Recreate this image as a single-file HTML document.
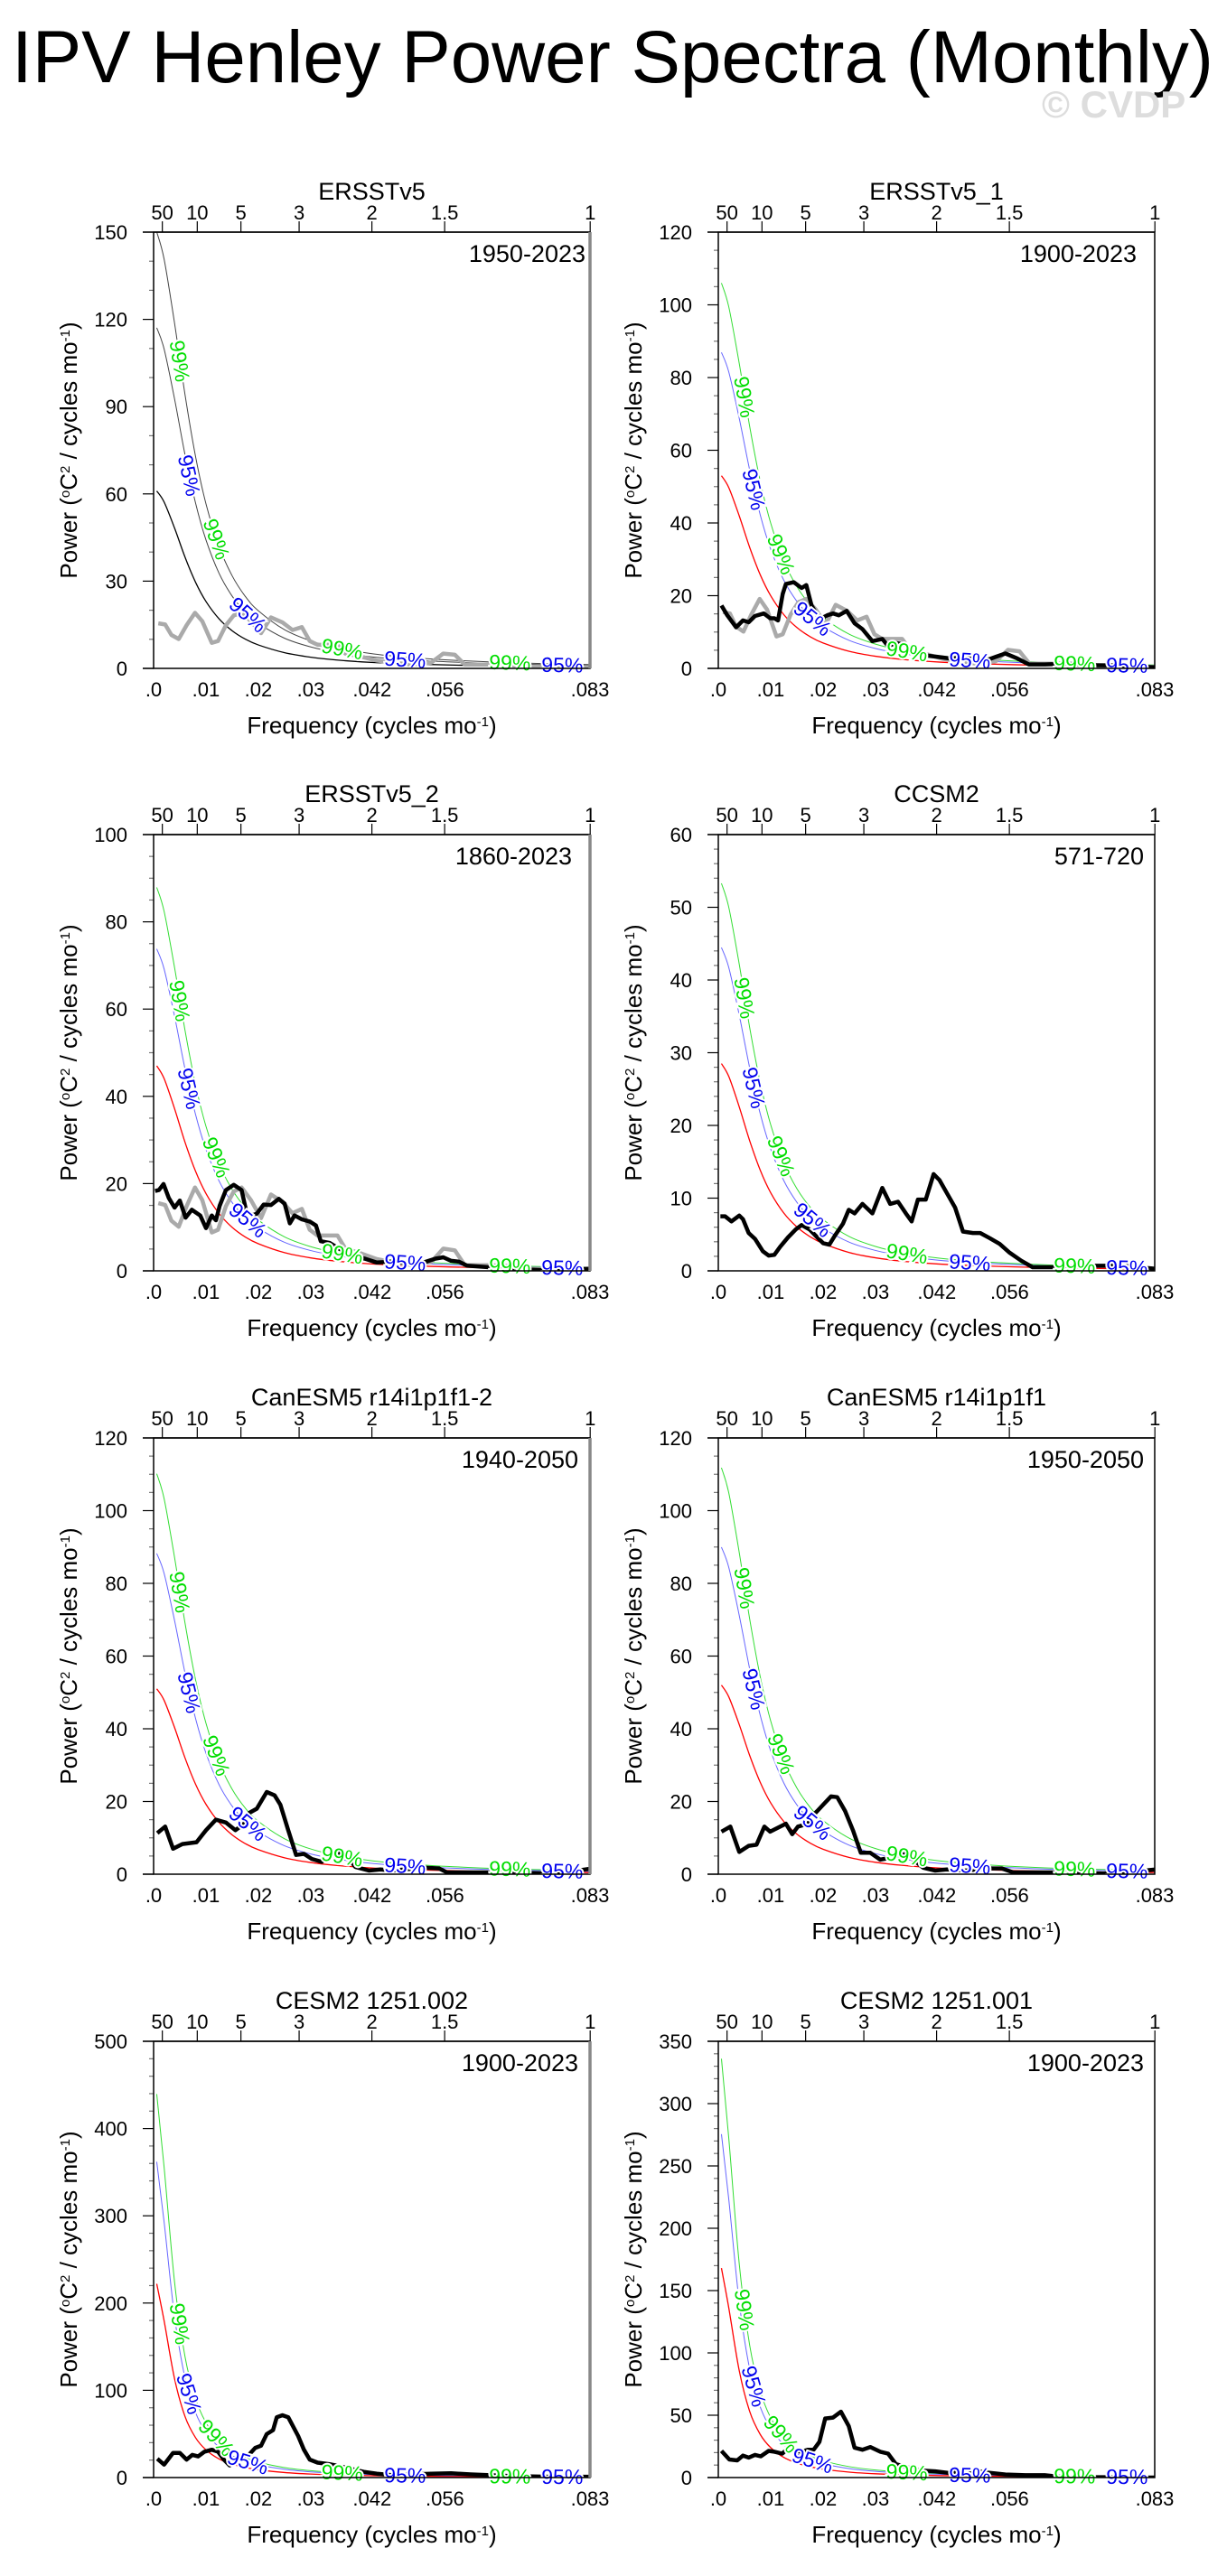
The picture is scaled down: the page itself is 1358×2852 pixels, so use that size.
<!DOCTYPE html>
<html><head><meta charset="utf-8"><title>IPV Henley Power Spectra (Monthly)</title>
<style>
html,body{margin:0;padding:0;background:#fff;}
svg{display:block;font-family:"Liberation Sans",Arial,sans-serif;}
</style></head>
<body>
<svg id="page" width="1358" height="2852" viewBox="0 0 1358 2852" xmlns="http://www.w3.org/2000/svg">
<rect x="0" y="0" width="1358" height="2852" fill="#fff"/>
<text x="13" y="91" font-size="82" textLength="1330" lengthAdjust="spacingAndGlyphs" fill="#000">IPV Henley Power Spectra (Monthly)</text>
<text x="1153" y="130" font-size="42" font-weight="bold" fill="#ddd">© CVDP</text>
<g id="charts"></g>
</svg>
<script>
// ---------- DATA ----------
const titles = ["ERSSTv5","ERSSTv5_1","ERSSTv5_2","CCSM2","CanESM5 r14i1p1f1-2","CanESM5 r14i1p1f1","CESM2 1251.002","CESM2 1251.001"];
const years = ["1950-2023","1900-2023","1860-2023","571-720","1940-2050","1950-2050","1900-2023","1900-2023"];
const yMaxs = [150,120,100,60,120,120,500,350];
const yMajors = [30,20,20,10,20,20,100,50];
const yMinors = [10,5,5,2,5,5,20,10];
const redStarts = [61,53,47,28.5,51,52,222,168];
const ratio95 = [1.92,1.64,1.57,1.56,1.73,1.73,1.63,1.64];
const ratio99 = [2.46,2.0,1.87,1.87,2.16,2.15,1.98,2.0];
const shapeIdx = [0,0,0,0,0,0,1,1];
const shapeF = [0.0006,0.002,0.004,0.006,0.008,0.01,0.0125,0.015,0.0175,0.02,0.025,0.03,0.035,0.042,0.05,0.06,0.07,0.0833];
const shapeA = [1,0.938,0.791,0.627,0.486,0.377,0.279,0.212,0.165,0.132,0.0885,0.063,0.047,0.033,0.024,0.017,0.0124,0.0088];
const shapeB = [1,0.81,0.51,0.315,0.206,0.143,0.096,0.069,0.052,0.040,0.026,0.018,0.0134,0.0094,0.0067,0.0047,0.0034,0.0024];
const xTickVals = [0,0.01,0.02,0.03,0.0417,0.0556,0.0833];
const xTickLabels = [".0",".01",".02",".03",".042",".056",".083"];
const periodVals = [50,10,5,3,2,1.5,1];
const periodLabels = ["50","10","5","3","2","1.5","1"];
const greenLabelF = [0.005,0.012,0.036,0.068];
const blueLabelF = [0.0068,0.018,0.048,0.078];

const obsF = [.0009,.0022,.0034,.0048,.0063,.0079,.0093,.0111,.0123,.0138,.0153,.0168,.0186,.0205,.0224,.0246,.0265,.0283,.0298,.0313,.0351,.0366,.0396,.0426,.0456,.0493,.053,.0553,.0575,.0594,.0643,.068,.0717,.0755,.0833];
const obsV = [15.5,15.1,11.5,10.1,14.8,19.1,16.2,8.8,9.4,14.8,18.2,19.1,16.2,12.1,17.5,15.8,13.2,14.2,9.4,8.1,8.1,5.1,4.0,2.7,2.0,1.3,2.0,5.1,4.7,1.3,1.3,1.1,0.5,0.4,0.4];

const s2f = [.0006,.0017,.0034,.0047,.0058,.0070,.0087,.0099,.0107,.0114,.0123,.0129,.0144,.0159,.0168,.0178,.0189,.0197,.0208,.0219,.0230,.0245,.0260,.0275,.0294,.0313,.0324,.0339,.0358,.0376,.0399,.0417,.0444,.0466,.0511,.053,.0548,.0571,.0593,.0623,.0668,.0698,.0765,.0833];
const s2v = [17.3,14.6,11.3,13.2,12.7,14.4,15.1,13.8,13.8,13.2,20.5,23.2,23.7,22.1,22.9,17.3,14.6,13.8,14.6,15.1,14.6,15.8,12.4,10.8,7.5,8.1,6.1,7.0,6.5,4.3,3.5,3.2,2.7,3.0,2.2,3.2,4.1,2.7,1.1,1.1,1.3,0.9,0.8,0.3];
const s3f = [.0003,.0010,.0019,.0029,.0040,.0050,.0061,.0073,.0089,.0100,.0111,.0119,.0126,.0138,.0153,.0168,.0177,.0190,.0197,.0210,.0224,.0239,.0250,.0260,.0269,.0283,.0298,.0310,.0319,.0336,.0355,.0370,.0385,.0403,.0426,.0456,.0486,.0515,.0538,.0553,.0568,.0583,.0598,.0643,.0717,.0755,.0833];
const s3v = [18.3,18.5,19.9,16.7,14.5,16.1,12.2,14.0,12.7,9.8,12.7,11.6,14.9,18.5,19.7,18.5,13.6,12.8,13.1,15.2,15.1,16.5,15.4,10.9,12.7,11.8,11.3,10.4,6.8,6.4,5.0,4.1,3.2,2.8,1.9,2.1,1.9,1.9,2.8,3.1,2.3,2.1,1.2,0.8,0.3,0.1,0.5];
const s4f = [.0004,.0013,.0025,.0040,.0047,.0058,.0070,.0085,.0096,.0107,.0118,.0133,.0148,.0159,.0174,.0189,.0200,.0212,.0223,.0238,.0249,.0260,.0275,.0294,.0313,.0328,.0343,.0358,.0369,.0381,.0396,.0411,.0422,.0437,.0452,.0467,.0486,.0500,.0518,.0537,.0556,.0578,.0600,.0660,.0698,.0773,.0833];
const s4v = [7.5,7.5,6.8,7.6,7.1,5.2,4.4,2.7,2.1,2.2,3.3,4.6,5.7,6.3,5.7,4.6,3.8,3.6,4.9,6.5,8.4,7.9,9.2,7.9,11.4,9.2,9.5,7.9,6.8,9.8,9.8,13.3,12.5,10.6,8.7,5.4,5.2,5.2,4.5,3.7,2.5,1.4,0.5,0.5,0.7,0.7,0.3];
const s5f = [.0007,.0022,.0037,.0055,.0082,.0100,.0119,.0138,.0156,.0171,.0183,.0197,.0216,.0231,.0242,.0257,.0272,.0287,.0302,.0321,.0343,.0366,.0385,.0411,.0433,.0456,.0515,.0545,.0560,.0680,.0755,.0800,.0833];
const s5v = [11.3,13.1,7.0,8.3,8.8,12.1,15.0,14.2,12.1,13.7,16.9,18.0,22.6,21.7,19.1,12.1,5.3,5.6,4.2,3.4,5.9,5.6,2.0,1.0,1.3,1.0,1.8,1.6,0.5,0.5,0.2,0.8,1.5];
const s6f = [.0006,.0023,.0040,.0058,.0073,.0088,.0099,.0114,.0129,.0141,.0152,.0167,.0178,.0189,.0200,.0215,.0227,.0242,.0257,.0272,.0290,.0309,.0328,.0346,.0361,.0372,.0391,.0414,.0436,.0473,.0511,.0541,.0563,.0660,.0735,.0802,.0833];
const s6v = [11.7,13.1,6.1,7.8,8.1,13.1,11.7,12.8,13.9,11.0,13.1,13.7,15.8,17.4,19.1,21.4,21.2,17.4,12.1,5.9,5.9,4.0,4.5,5.3,5.6,4.0,1.8,1.0,1.3,1.0,1.6,1.6,0.5,0.5,0.2,0.8,1.3];
const s7f = [.0007,.0020,.0037,.0050,.0063,.0074,.0085,.0097,.0111,.0123,.0134,.0145,.0156,.0168,.0179,.0194,.0205,.0216,.0228,.0235,.0246,.0257,.0276,.0287,.0298,.0313,.0336,.0358,.0381,.0403,.0426,.0456,.0493,.0530,.0568,.0605,.0680,.0755,.0833];
const s7v = [21.5,14.8,28.3,28.3,20.6,26.0,24.2,29.6,31.9,29.6,20.6,13.9,18.4,22.9,24.2,34.1,36.4,49.8,54.3,69.1,71.4,69.1,47.6,31.9,20.6,17.1,15.3,12.6,9.4,6.3,4.5,2.7,3.6,4.5,4.9,3.6,1.8,0.9,0.9];
const s8f = [.0006,.0021,.0036,.0047,.0058,.0070,.0081,.0096,.0107,.0122,.0133,.0144,.0159,.0171,.0182,.0193,.0204,.0219,.0234,.0249,.0260,.0275,.0290,.0309,.0324,.0339,.0361,.0384,.0414,.0444,.0459,.0488,.0511,.0548,.0586,.0623,.0660,.0735,.0833];
const s8v = [21.4,14.5,13.8,17.6,16.0,18.2,17.0,21.4,20.7,19.2,23.2,21.4,20.7,22.3,22.3,28.6,47.4,48.1,52.8,41.2,23.9,22.3,24.5,20.7,19.2,10.7,8.2,5.7,5.0,3.5,5.0,5.7,4.1,2.5,1.9,1.9,0.3,0.3,0];

const mainF = [null,s2f,s3f,s4f,s5f,s6f,s7f,s8f];
const mainV = [null,s2v,s3v,s4v,s5v,s6v,s7v,s8v];
const showObs = [true,true,true,false,false,false,false,false];
const yearOffsets = [5,20,20,12,13,12,13,12];

// ---------- LAYOUT ----------
const colLeft = [170,795];
const rowTop = [257,924,1592,2260];
const PW = 483, PH = 483, FMAX = 0.0833;
const NS = "http://www.w3.org/2000/svg";
const root = document.getElementById('charts');

function mk(tag, attrs, parent){
  const e = document.createElementNS(NS, tag);
  for (const k in attrs) e.setAttribute(k, attrs[k]);
  (parent||root).appendChild(e);
  return e;
}
function interpShape(shape, f){
  if (f <= shapeF[0]) return shape[0];
  for (let i=1;i<shapeF.length;i++){
    if (f <= shapeF[i]){
      const t=(f-shapeF[i-1])/(shapeF[i]-shapeF[i-1]);
      return Math.exp(Math.log(shape[i-1])*(1-t)+Math.log(shape[i])*t);
    }
  }
  return shape[shape.length-1];
}
function smoothPath(pts){
  let d = "M"+pts[0][0].toFixed(2)+","+pts[0][1].toFixed(2);
  for (let i=0;i<pts.length-1;i++){
    const p0=pts[Math.max(0,i-1)], p1=pts[i], p2=pts[i+1], p3=pts[Math.min(pts.length-1,i+2)];
    const c1=[p1[0]+(p2[0]-p0[0])/6, p1[1]+(p2[1]-p0[1])/6];
    const c2=[p2[0]-(p3[0]-p1[0])/6, p2[1]-(p3[1]-p1[1])/6];
    d+=" C"+c1[0].toFixed(2)+","+c1[1].toFixed(2)+" "+c2[0].toFixed(2)+","+c2[1].toFixed(2)+" "+p2[0].toFixed(2)+","+p2[1].toFixed(2);
  }
  return d;
}

for (let p=0;p<8;p++){
  const L = colLeft[p%2], T = rowTop[Math.floor(p/2)], R = L+PW, B = T+PH;
  const g = mk('g',{});
  
  
  const xs = f => L + f/FMAX*PW;
  const ys = v => B - v/yMaxs[p]*PH;
  const cx = (L+R)/2;

  const cp = mk('clipPath',{id:'clip'+p},g);
  mk('rect',{x:L,y:T,width:PW,height:PH},cp);

  const tt = mk('text',{x:cx,y:T-36,'text-anchor':'middle','font-size':27,fill:'#000'},g);
  tt.textContent = titles[p];
  
  

  const yl = mk('text',{x:R-yearOffsets[p],y:T+33,'text-anchor':'end','font-size':27,fill:'#000'},g);
  yl.textContent = years[p];
  
  

  for (let v=0; v<=yMaxs[p]+1e-9; v+=yMinors[p]){
    const y=ys(v);
    const major = Math.abs(v/yMajors[p]-Math.round(v/yMajors[p]))<1e-6;
    const tk = mk('line',{x1:L-(major?12:5),x2:L,y1:y,y2:y,stroke:major?'#000':'#777','stroke-width':1.2},g);
    
    
    if (major){
      const lb = mk('text',{x:L-29,y:y+8,'text-anchor':'end','font-size':22,fill:'#000'},g);
      lb.textContent = String(Math.round(v));
      
      
    }
  }
  mk('line',{x1:L-12,x2:L,y1:B,y2:B,stroke:'#000','stroke-width':1.5},g);

  for (let i=0;i<xTickVals.length;i++){
    const x = xs(xTickVals[i]);
    const lb = mk('text',{x:x,y:B+31,'text-anchor':'middle','font-size':22,fill:'#000'},g);
    lb.textContent = xTickLabels[i];
    
    
  }
  for (let i=0;i<periodVals.length;i++){
    const x = xs(1/(12*periodVals[i]));
    const tk = mk('line',{x1:x,x2:x,y1:T-12,y2:T,stroke:'#000','stroke-width':1.2},g);
    
    
    const lb = mk('text',{x:x,y:T-14,'text-anchor':'middle','font-size':22,fill:'#000'},g);
    lb.textContent = periodLabels[i];
    
    
  }
  mk('line',{x1:L-12,x2:R,y1:T,y2:T,stroke:'#000','stroke-width':1.5},g);

  const xt = mk('text',{x:cx,y:B+72,'text-anchor':'middle','font-size':26,fill:'#000'},g);
  xt.innerHTML = 'Frequency (cycles mo<tspan font-size="15" baseline-shift="super">-1</tspan>)';
  
  
  const yt = mk('text',{x:0,y:0,'text-anchor':'middle','font-size':26,fill:'#000',transform:'translate('+(L-85)+','+(T+PH/2)+') rotate(-90)'},g);
  yt.innerHTML = 'Power (<tspan font-size="15" baseline-shift="super">o</tspan>C<tspan font-size="15" baseline-shift="super">2</tspan> / cycles mo<tspan font-size="15" baseline-shift="super">-1</tspan>)';
  
  

  const cg = mk('g',{'clip-path':'url(#clip'+p+')'},g);

  const shape = shapeIdx[p]===0 ? shapeA : shapeB;
  const redPts = shapeF.map((f,i)=>[xs(f), ys(redStarts[p]*shape[i])]);
  const p95 = shapeF.map((f,i)=>[xs(f), ys(redStarts[p]*shape[i]*ratio95[p])]);
  const p99 = shapeF.map((f,i)=>[xs(f), ys(redStarts[p]*shape[i]*ratio99[p])]);
  const cRed = p===0?'#000':'#ff0000', c95 = p===0?'#444':'#6666ff', c99 = p===0?'#444':'#33dd33';
  const l99 = mk('path',{d:smoothPath(p99),fill:'none',stroke:c99,'stroke-width':1},cg);
  
  
  const l95 = mk('path',{d:smoothPath(p95),fill:'none',stroke:c95,'stroke-width':1},cg);
  
  
  const lr = mk('path',{d:smoothPath(redPts),fill:'none',stroke:cRed,'stroke-width':1.3},cg);
  
  

  if (showObs[p]){
    const op = obsF.map((f,i)=>xs(f).toFixed(1)+','+ys(obsV[i]).toFixed(1)).join(' ');
    const ol = mk('polyline',{points:op,fill:'none',stroke:'#aaaaaa','stroke-width':4.5,'stroke-linejoin':'round'},cg);
    
    
  }
  if (mainF[p]){
    const mp = mainF[p].map((f,i)=>xs(f).toFixed(1)+','+ys(mainV[p][i]).toFixed(1)).join(' ');
    const ml = mk('polyline',{points:mp,fill:'none',stroke:'#000','stroke-width':4.5,'stroke-linejoin':'round'},cg);
    
    
  }

  function addLabel(f, ratio, txt, color){
    const v1 = redStarts[p]*interpShape(shape,f)*ratio;
    const v2 = redStarts[p]*interpShape(shape,f+0.0008)*ratio;
    const x1=xs(f), y1=ys(v1), x2=xs(f+0.0008), y2=ys(v2);
    const ang = Math.atan2(y2-y1, x2-x1)*180/Math.PI;
    if (y1 < T+5) return;
    const t = mk('text',{x:0,y:8,'text-anchor':'middle','font-size':23,fill:color,stroke:'#fff','stroke-width':4,'paint-order':'stroke',transform:'translate('+x1.toFixed(1)+','+y1.toFixed(1)+') rotate('+ang.toFixed(1)+')'},g);
    t.textContent = txt;
    
    
  }
  greenLabelF.forEach(f=>addLabel(f, ratio99[p], '99%', '#00dd00'));
  blueLabelF.forEach(f=>addLabel(f, ratio95[p], '95%', '#0000ee'));

  const fr = mk('rect',{x:L,y:T,width:PW,height:PH,fill:'none',stroke:'#000','stroke-width':1.5},g);
  
  
  if (p%2===0){
    mk('line',{x1:R,x2:R,y1:T,y2:B,stroke:'#888','stroke-width':3.5},g);
  }
}
</script>
</body></html>
